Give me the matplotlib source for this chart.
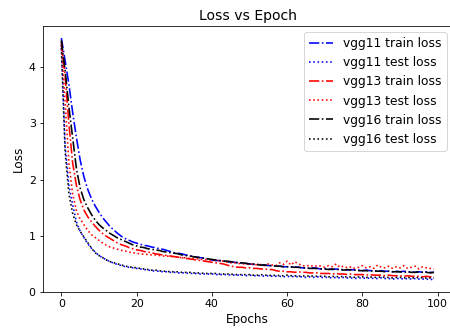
import matplotlib
matplotlib.use("Agg")
import matplotlib.pyplot as plt

epochs = list(range(100))

vgg11_train = [4.52, 4.12, 3.70, 3.20, 2.75, 2.35, 2.05, 1.83, 1.66, 1.53,
               1.42, 1.32, 1.24, 1.16, 1.10, 1.04, 0.99, 0.95, 0.92, 0.89,
               0.87, 0.85, 0.83, 0.82, 0.80, 0.79, 0.77, 0.76, 0.74, 0.72,
               0.70, 0.69, 0.68, 0.66, 0.65, 0.63, 0.62, 0.61, 0.60, 0.59,
               0.57, 0.56, 0.56, 0.55, 0.54, 0.53, 0.53, 0.52, 0.51, 0.51,
               0.50, 0.49, 0.49, 0.48, 0.48, 0.47, 0.47, 0.46, 0.46, 0.45,
               0.45, 0.44, 0.45, 0.44, 0.43, 0.43, 0.42, 0.43, 0.42, 0.41,
               0.42, 0.41, 0.40, 0.41, 0.40, 0.40, 0.39, 0.40, 0.39, 0.39,
               0.38, 0.39, 0.38, 0.38, 0.37, 0.38, 0.37, 0.37, 0.36, 0.37,
               0.36, 0.37, 0.36, 0.36, 0.35, 0.36, 0.35, 0.36, 0.35, 0.35]
vgg11_test = [4.40, 2.60, 1.90, 1.55, 1.25, 1.08, 0.97, 0.86, 0.78, 0.71,
              0.65, 0.61, 0.57, 0.54, 0.51, 0.49, 0.47, 0.45, 0.44, 0.43,
              0.42, 0.41, 0.40, 0.39, 0.38, 0.37, 0.37, 0.36, 0.36, 0.35,
              0.35, 0.34, 0.34, 0.34, 0.33, 0.33, 0.33, 0.32, 0.32, 0.32,
              0.32, 0.31, 0.31, 0.31, 0.31, 0.30, 0.30, 0.30, 0.30, 0.29,
              0.30, 0.29, 0.29, 0.29, 0.28, 0.29, 0.28, 0.28, 0.28, 0.27,
              0.28, 0.27, 0.28, 0.27, 0.27, 0.26, 0.27, 0.26, 0.27, 0.26,
              0.26, 0.26, 0.25, 0.26, 0.25, 0.26, 0.25, 0.25, 0.24, 0.25,
              0.25, 0.24, 0.25, 0.24, 0.24, 0.25, 0.24, 0.24, 0.23, 0.24,
              0.24, 0.23, 0.24, 0.23, 0.24, 0.23, 0.23, 0.23, 0.22, 0.23]
vgg13_train = [4.45, 3.85, 3.00, 2.30, 1.90, 1.64, 1.46, 1.34, 1.25, 1.17,
               1.10, 1.04, 0.99, 0.95, 0.91, 0.87, 0.84, 0.82, 0.79, 0.77,
               0.75, 0.74, 0.72, 0.71, 0.70, 0.68, 0.67, 0.66, 0.65, 0.64,
               0.63, 0.62, 0.61, 0.60, 0.59, 0.58, 0.57, 0.56, 0.55, 0.54,
               0.53, 0.52, 0.51, 0.50, 0.48, 0.46, 0.45, 0.44, 0.44, 0.43,
               0.43, 0.42, 0.42, 0.41, 0.41, 0.40, 0.40, 0.38, 0.37, 0.37,
               0.36, 0.36, 0.35, 0.36, 0.35, 0.35, 0.34, 0.34, 0.34, 0.33,
               0.33, 0.33, 0.32, 0.33, 0.32, 0.32, 0.31, 0.32, 0.31, 0.31,
               0.31, 0.30, 0.31, 0.30, 0.30, 0.30, 0.29, 0.30, 0.29, 0.29,
               0.29, 0.28, 0.29, 0.28, 0.28, 0.28, 0.27, 0.28, 0.27, 0.27]
vgg13_test = [4.40, 3.40, 2.30, 1.75, 1.45, 1.30, 1.20, 1.10, 1.02, 0.97,
              0.92, 0.87, 0.83, 0.80, 0.78, 0.76, 0.74, 0.73, 0.71, 0.70,
              0.69, 0.68, 0.67, 0.67, 0.66, 0.66, 0.65, 0.64, 0.64, 0.63,
              0.63, 0.62, 0.61, 0.61, 0.60, 0.60, 0.59, 0.58, 0.58, 0.57,
              0.57, 0.56, 0.56, 0.55, 0.53, 0.52, 0.52, 0.51, 0.50, 0.50,
              0.49, 0.50, 0.48, 0.49, 0.47, 0.50, 0.48, 0.47, 0.52, 0.49,
              0.55, 0.48, 0.54, 0.50, 0.47, 0.46, 0.48, 0.45, 0.47, 0.46,
              0.44, 0.47, 0.45, 0.50, 0.44, 0.46, 0.43, 0.45, 0.42, 0.44,
              0.47, 0.43, 0.45, 0.42, 0.48, 0.44, 0.43, 0.46, 0.42, 0.45,
              0.43, 0.47, 0.42, 0.44, 0.46, 0.41, 0.45, 0.43, 0.42, 0.41]
vgg16_train = [4.48, 3.95, 3.30, 2.75, 2.20, 1.85, 1.64, 1.50, 1.38, 1.28,
               1.20, 1.14, 1.09, 1.04, 1.00, 0.96, 0.93, 0.90, 0.87, 0.84,
               0.82, 0.80, 0.79, 0.77, 0.76, 0.75, 0.74, 0.72, 0.71, 0.70,
               0.69, 0.68, 0.66, 0.65, 0.64, 0.63, 0.62, 0.61, 0.60, 0.59,
               0.58, 0.57, 0.56, 0.55, 0.55, 0.54, 0.53, 0.52, 0.52, 0.51,
               0.50, 0.50, 0.49, 0.48, 0.48, 0.47, 0.47, 0.46, 0.46, 0.45,
               0.45, 0.45, 0.44, 0.44, 0.43, 0.43, 0.42, 0.42, 0.42, 0.41,
               0.41, 0.40, 0.41, 0.40, 0.40, 0.39, 0.40, 0.39, 0.39, 0.38,
               0.38, 0.38, 0.37, 0.38, 0.37, 0.37, 0.36, 0.37, 0.36, 0.36,
               0.36, 0.35, 0.36, 0.35, 0.35, 0.36, 0.35, 0.35, 0.34, 0.35]
vgg16_test = [4.35, 2.50, 1.75, 1.40, 1.20, 1.08, 0.98, 0.88, 0.78, 0.70,
              0.65, 0.61, 0.57, 0.54, 0.52, 0.50, 0.48, 0.46, 0.45, 0.44,
              0.43, 0.42, 0.41, 0.40, 0.39, 0.39, 0.38, 0.37, 0.37, 0.36,
              0.36, 0.36, 0.35, 0.35, 0.35, 0.34, 0.34, 0.34, 0.33, 0.33,
              0.33, 0.33, 0.32, 0.32, 0.32, 0.32, 0.31, 0.31, 0.31, 0.31,
              0.31, 0.30, 0.30, 0.31, 0.30, 0.30, 0.29, 0.30, 0.29, 0.29,
              0.30, 0.29, 0.29, 0.28, 0.29, 0.28, 0.29, 0.28, 0.28, 0.28,
              0.28, 0.27, 0.28, 0.27, 0.28, 0.27, 0.27, 0.27, 0.26, 0.27,
              0.27, 0.26, 0.27, 0.26, 0.26, 0.27, 0.26, 0.26, 0.25, 0.26,
              0.26, 0.25, 0.26, 0.25, 0.25, 0.26, 0.25, 0.25, 0.25, 0.25]

series = [
    ("vgg11 train loss", vgg11_train, "b", "-."),
    ("vgg11 test loss", vgg11_test, "b", ":"),
    ("vgg13 train loss", vgg13_train, "r", "-."),
    ("vgg13 test loss", vgg13_test, "r", ":"),
    ("vgg16 train loss", vgg16_train, "k", "-."),
    ("vgg16 test loss", vgg16_test, "k", ":"),
]

fig = plt.figure(figsize=(6.25, 4.625), dpi=72)
ax = fig.add_axes([0.0949, 0.1231, 0.911, 0.7988])
for label, vals, c, ls in series:
    ax.plot(epochs, vals, color=c, linestyle=ls, label=label, linewidth=1.6)
ax.set_ylim(bottom=0)
ax.tick_params(labelsize=11)
ax.set_title("Loss vs Epoch", fontsize=14)
ax.set_xlabel("Epochs", fontsize=12)
ax.set_ylabel("Loss", fontsize=12)
ax.legend(loc="upper right", fontsize=12.3)
fig.savefig("out.png", dpi=72)
